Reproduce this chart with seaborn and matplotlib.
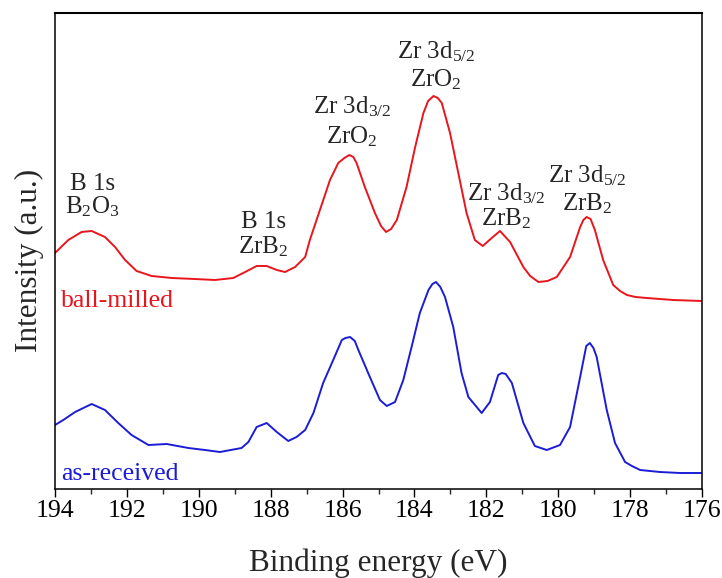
import matplotlib
matplotlib.use("Agg")
import matplotlib.pyplot as plt
from matplotlib.ticker import MultipleLocator
import seaborn as sns
import pandas as pd

# ---------------- data ----------------
red_ev = [194.00, 193.63, 193.26, 192.98, 192.61, 192.33, 192.05, 191.73, 191.31, 190.75,
          190.11, 189.55, 189.04, 188.71, 188.39, 188.11, 187.83, 187.60, 187.32, 187.04,
          186.91, 186.63, 186.35, 186.12, 185.95, 185.81, 185.70, 185.61, 185.38, 185.10,
          184.93, 184.79, 184.65, 184.49, 184.22, 183.98, 183.75, 183.62, 183.47, 183.35,
          183.24, 183.01, 182.78, 182.55, 182.32, 182.10, 181.85, 181.62, 181.34, 180.97,
          180.78, 180.55, 180.30, 180.04, 179.67, 179.39, 179.30, 179.21, 179.10, 178.98,
          178.75, 178.47, 178.28, 178.09, 177.85, 177.54, 176.80, 176.01]
red_int = [236, 249, 257, 258, 252, 242, 229, 218, 213, 211,
           210, 209, 211, 217, 223, 223, 219, 217, 222, 232,
           249, 279, 309, 326, 331, 334, 332, 326, 302, 276,
           263, 257, 260, 269, 302, 342, 376, 388, 393, 391,
           386, 356, 316, 276, 249, 243, 251, 258, 247, 222,
           213, 207, 208, 212, 232, 262, 269, 272, 270, 259,
           229, 204, 198, 194, 192, 191, 189, 188]

blue_ev = [194.00, 193.77, 193.44, 192.98, 192.61, 192.24, 191.87, 191.40, 190.89, 190.29,
           189.83, 189.41, 188.81, 188.62, 188.39, 188.11, 187.83, 187.51, 187.28, 187.04,
           186.81, 186.54, 186.26, 186.02, 185.92, 185.79, 185.66, 185.56, 185.24, 184.96,
           184.77, 184.54, 184.31, 184.08, 183.85, 183.61, 183.50, 183.40, 183.28, 183.15,
           182.92, 182.69, 182.50, 182.13, 181.90, 181.67, 181.57, 181.46, 181.29, 180.97,
           180.65, 180.32, 179.95, 179.67, 179.39, 179.22, 179.12, 179.02, 178.93, 178.65,
           178.42, 178.14, 177.95, 177.72, 177.17, 176.61, 176.01]
blue_int = [64, 69, 77, 85, 79, 66, 54, 44, 45, 41,
            39, 37, 41, 47, 62, 66, 57, 48, 52, 59,
            76, 106, 129, 149, 151, 152, 148, 139, 112, 89,
            83, 87, 109, 142, 176, 199, 205, 207, 202, 192,
            162, 116, 92, 76, 87, 114, 116, 115, 106, 66,
            43, 39, 44, 62, 112, 143, 146, 141, 132, 79,
            46, 27, 23, 19, 17, 16, 16]

# peak annotations: (x eV, first line, y first line, second line, y second line)
ann_x = [192.96, 188.21, 185.74, 183.40, 181.45, 179.20]
ann_line1 = ["B 1s", "B 1s", "Zr 3d$_{3/2}$", "Zr 3d$_{5/2}$", "Zr 3d$_{3/2}$", "Zr 3d$_{5/2}$"]
ann_y1 = [299, 261, 376, 431, 289, 307]
ann_line2 = ["B$_2$O$_3$", "ZrB$_2$", "ZrO$_2$", "ZrO$_2$", "ZrB$_2$", "ZrB$_2$"]
ann_y2 = [276, 236, 346, 403, 264, 279]

series_labels = ["ball-milled", "as-received"]
series_label_y = [182, 9]

xlabel = "Binding energy (eV)"
ylabel = "Intensity (a.u.)"

# ---------------- styling ----------------
sns.set_theme(style="ticks")
plt.rcParams["font.family"] = ["Liberation Serif", "DejaVu Serif"]
plt.rcParams["mathtext.fontset"] = "custom"
plt.rcParams["mathtext.rm"] = "Liberation Serif"
plt.rcParams["mathtext.it"] = "Liberation Serif:italic"
plt.rcParams["mathtext.default"] = "regular"

RED = "#e8161c"
BLUE = "#1c1cd6"

fig = plt.figure(figsize=(7.22, 5.78), dpi=100)
ax = fig.add_axes([55 / 722, 1 - 489 / 578, (702 - 55) / 722, (489 - 13) / 578])

df_red = pd.DataFrame({"energy": red_ev, "intensity": red_int})
df_blue = pd.DataFrame({"energy": blue_ev, "intensity": blue_int})
sns.lineplot(data=df_red, x="energy", y="intensity", color=RED, lw=1.4, ax=ax)
sns.lineplot(data=df_blue, x="energy", y="intensity", color=BLUE, lw=1.4, ax=ax)

ax.set_xlim(194, 176)
ax.set_ylim(0, 476)
ax.xaxis.set_major_locator(MultipleLocator(2))
ax.xaxis.set_minor_locator(MultipleLocator(1))
ax.tick_params(axis="x", which="major", direction="out", length=6, width=1.0,
               labelsize=18.5, pad=2, colors="black")
ax.tick_params(axis="x", which="minor", direction="out", length=3.5, width=1.0)
ax.set_yticks([])
for name, s in ax.spines.items():
    s.set_visible(True)
    s.set_linewidth(1.1)
    s.set_color("black")
ax.spines["top"].set_linewidth(1.5)

ax.set_xlabel(xlabel, fontsize=22.5, labelpad=19)
ax.set_ylabel(ylabel, fontsize=22.5, labelpad=8)
ax.yaxis.label.set_y(0.481)

for x, l1, y1, l2, y2 in zip(ann_x, ann_line1, ann_y1, ann_line2, ann_y2):
    ax.text(x, y1, l1, ha="center", va="baseline", fontsize=18)
    ax.text(x, y2, l2, ha="center", va="baseline", fontsize=18)

ax.text(193.83, series_label_y[0], series_labels[0], color=RED, fontsize=18.5,
        ha="left", va="baseline")
ax.text(193.83, series_label_y[1], series_labels[1], color=BLUE, fontsize=18.5,
        ha="left", va="baseline")

fig.savefig("out.png", dpi=100)
